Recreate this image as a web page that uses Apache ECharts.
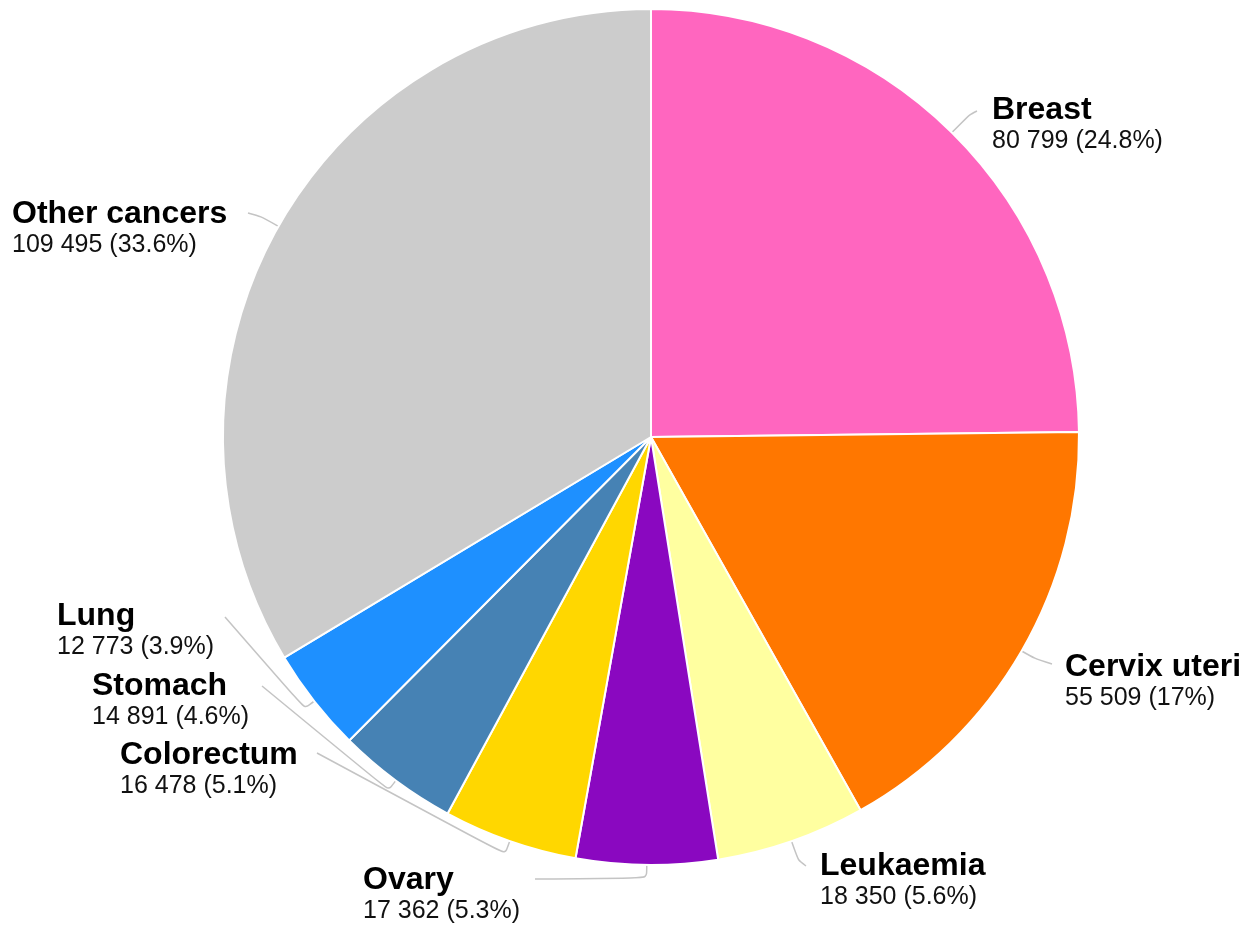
<!DOCTYPE html>
<html>
<head>
<meta charset="utf-8">
<script src="https://cdn.jsdelivr.net/npm/echarts@6/dist/echarts.min.js"></script>
<style>
html, body { margin: 0; padding: 0; background: #fff; }
#main { width: 1253px; height: 926px; }
</style>
</head>
<body>
<div id="main"></div>
<script>
var categories = ['Breast', 'Cervix uteri', 'Leukaemia', 'Ovary', 'Colorectum', 'Stomach', 'Lung', 'Other cancers'];
var values = [80799, 55509, 18350, 17362, 16478, 14891, 12773, 109495];
var colors = ['#ff66bf', '#ff7700', '#ffffa0', '#8a08c0', '#ffd700', '#4682b4', '#1e90ff', '#cccccc'];

// where each label block sits (top-left) and where its leader line stops
var labelPos = [[992, 91], [1065, 648], [820, 847], [363, 861], [120, 736], [92, 667], [57, 597], [12, 195]];
var lineEnd = [[977, 111], [1052, 664], [806, 866], [535, 879], [317, 753], [262, 686], [225, 617], [248, 213]];
var lineOut = [25, 15, 20, 13, 14, 12, 12, 20];

var total = values.reduce(function (a, b) { return a + b; }, 0);

function fmtNum(v) {
    return String(v).replace(/\B(?=(\d{3})+(?!\d))/g, ' ');
}

var data = categories.map(function (c, i) {
    return { name: c, value: values[i], itemStyle: { color: colors[i] } };
});

var option = {
    animation: false,
    backgroundColor: '#fff',
    series: [{
        type: 'pie',
        center: [651, 437],
        radius: 428,
        startAngle: 90,
        clockwise: true,
        avoidLabelOverlap: false,
        itemStyle: {
            borderColor: '#fff',
            borderWidth: 2
        },
        label: {
            show: true,
            position: 'outside',
            formatter: function (p) {
                var pct = Math.round(p.value / total * 1000) / 10;
                return '{n|' + p.name + '}\n{v|' + fmtNum(p.value) + ' (' + pct + '%)}';
            },
            rich: {
                n: { fontFamily: 'Liberation Sans', fontWeight: 'bold', fontSize: 32, lineHeight: 38, color: '#000', align: 'left' },
                v: { fontFamily: 'Liberation Sans', fontSize: 25, lineHeight: 25, color: '#111', align: 'left' }
            }
        },
        labelLine: {
            show: true,
            length: 15,
            length2: 15,
            smooth: 0.25,
            lineStyle: { color: '#c4c4c4', width: 1.5 }
        },
        labelLayout: function (params) {
            var i = params.dataIndex;
            var pts = params.labelLinePoints;
            var p0 = pts[0];
            var dx = pts[1][0] - p0[0], dy = pts[1][1] - p0[1];
            var len = Math.sqrt(dx * dx + dy * dy) || 1;
            var p1 = [p0[0] + dx / len * lineOut[i], p0[1] + dy / len * lineOut[i]];
            return {
                x: labelPos[i][0],
                y: labelPos[i][1],
                align: 'left',
                verticalAlign: 'top',
                labelLinePoints: [[p0[0], p0[1]], p1, lineEnd[i]]
            };
        },
        emphasis: { disabled: true },
        data: data
    }]
};

echarts.init(document.getElementById('main')).setOption(option);
</script>
</body>
</html>
